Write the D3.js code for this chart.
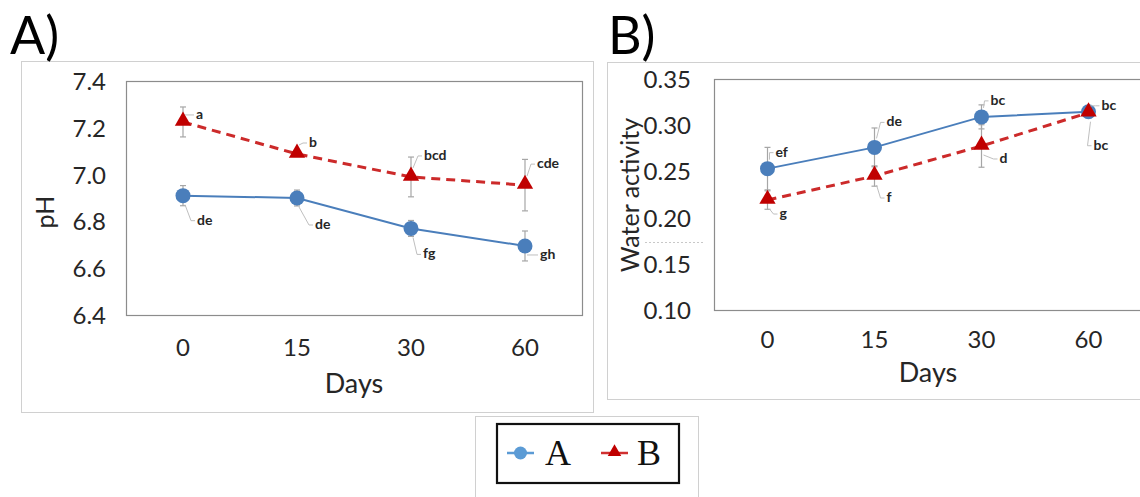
<!DOCTYPE html>
<html>
<head>
<meta charset="utf-8">
<script src="https://cdn.jsdelivr.net/npm/d3@7"></script>
<style>
  html, body { margin: 0; padding: 0; background: #fff; }
  svg { display: block; font-family: Lato, "Open Sans", sans-serif; }
</style>
</head>
<body>
<svg id="chart" width="1140" height="497"></svg>
<script>
// ---------------- data ----------------
const days = ["0", "15", "30", "60"];

const phTicks = [6.4, 6.6, 6.8, 7.0, 7.2, 7.4];
const phA = [6.91, 6.90, 6.77, 6.695];
const phAErr = [0.043, 0.034, 0.034, 0.064];
const phB = [7.225, 7.088, 6.99, 6.955];
const phBErr = [0.064, 0.01, 0.085, 0.11];
const phALetters = ["de", "de", "fg", "gh"];
const phBLetters = ["a", "b", "bcd", "cde"];

const awTicks = [0.10, 0.15, 0.20, 0.25, 0.30, 0.35];
const awA = [0.253, 0.276, 0.309, 0.3145];
const awAErr = [0.023, 0.021, 0.013, 0.003];
const awB = [0.219, 0.245, 0.2775, 0.3135];
const awBErr = [0.010, 0.011, 0.023, 0.003];
const awALetters = ["ef", "de", "bc", "bc"];
const awBLetters = ["g", "f", "d", "bc"];

const seriesNames = ["A", "B"];

// ---------------- style ----------------
const BLUE = "#4a7ebb";
const BLUE_LEG = "#5b9bd5";
const RED = "#c00000";
const RED_LINE = "#cc2a2a";
const ERR = "#a6a6a6";

const svg = d3.select("#chart");
svg.append("rect").attr("width", 1140).attr("height", 497).attr("fill", "#fff");

function panel(cfg) {
  const g = svg.append("g");
  g.append("rect")
    .attr("x", cfg.frame[0] + 0.5).attr("y", cfg.frame[1] + 0.5)
    .attr("width", cfg.frame[2]).attr("height", cfg.frame[3])
    .attr("fill", "none").attr("stroke", "#d0d0d0").attr("stroke-width", 1);

  g.append("text").attr("x", cfg.title[0]).attr("y", cfg.title[1])
    .attr("font-size", 52).attr("fill", "#000").text(cfg.titleText);

  const x = d3.scaleBand().domain(days).range([cfg.plot.left, cfg.plot.right]);
  const y = d3.scaleLinear().domain(cfg.yDomain).range([cfg.plot.bottom, cfg.plot.top]);
  const cx = d => x(d) + x.bandwidth() / 2;

  g.append("rect")
    .attr("x", cfg.plot.left + 0.5).attr("y", cfg.plot.top + 0.5)
    .attr("width", cfg.plot.right - cfg.plot.left).attr("height", cfg.plot.bottom - cfg.plot.top)
    .attr("fill", "none").attr("stroke", "#8c8c8c").attr("stroke-width", 1.2);

  const ya = g.append("g").attr("transform", `translate(${cfg.plot.left - cfg.yLabelGap},0)`)
    .call(d3.axisLeft(y).tickValues(cfg.ticks).tickSize(0).tickPadding(0).tickFormat(cfg.fmt));
  ya.select(".domain").remove();
  ya.selectAll("text").attr("font-size", 24).attr("fill", "#262626")
    .attr("font-family", "Lato, sans-serif").attr("dy", "0.35em");

  const xa = g.append("g").attr("transform", `translate(0,${cfg.xTickY})`)
    .call(d3.axisBottom(x).tickSize(0).tickPadding(0));
  xa.select(".domain").remove();
  xa.selectAll("text").attr("font-size", 24).attr("fill", "#262626")
    .attr("font-family", "Lato, sans-serif").attr("dy", "0.35em");

  g.append("text").attr("x", cfg.xTitle[0]).attr("y", cfg.xTitle[1])
    .attr("text-anchor", "middle").attr("dy", "0.35em")
    .attr("font-size", 27).attr("fill", "#262626").text("Days");
  g.append("text").attr("transform", `translate(${cfg.yTitle[0]},${cfg.yTitle[1]}) rotate(-90)`)
    .attr("text-anchor", "middle").attr("dy", "0.35em")
    .attr("font-size", 25).attr("fill", "#262626").text(cfg.yTitleText);

  const series = [
    { vals: cfg.a, err: cfg.aErr, letters: cfg.aLetters, off: cfg.aOff },
    { vals: cfg.b, err: cfg.bErr, letters: cfg.bLetters, off: cfg.bOff }
  ];

  series.forEach(s => {
    const eg = g.append("g").attr("stroke", ERR).attr("stroke-width", 1.2);
    days.forEach((d, i) => {
      const px = cx(d), y1 = y(s.vals[i] + s.err[i]), y2 = y(s.vals[i] - s.err[i]);
      eg.append("line").attr("x1", px).attr("x2", px).attr("y1", y1).attr("y2", y2);
      eg.append("line").attr("x1", px - 3).attr("x2", px + 3).attr("y1", y1).attr("y2", y1);
      eg.append("line").attr("x1", px - 3).attr("x2", px + 3).attr("y1", y2).attr("y2", y2);
    });
  });

  const line = d3.line().x((v, i) => cx(days[i])).y(v => y(v));
  [0, 1].forEach(k => {
    const s = series[k];
    g.append("path").datum(s.vals).attr("d", line).attr("fill", "none")
      .attr("stroke", k === 0 ? BLUE : RED_LINE)
      .attr("stroke-width", k === 0 ? 2 : 3)
      .attr("stroke-dasharray", k === 0 ? null : "9,6");
  });
  [0, 1].forEach(k => {
    const s = series[k];
    days.forEach((d, i) => {
      if (k === 0) {
        g.append("circle").attr("cx", cx(d)).attr("cy", y(s.vals[i])).attr("r", 7.5).attr("fill", BLUE);
      } else {
        g.append("path").attr("d", d3.symbol(d3.symbolTriangle, 115)())
          .attr("transform", `translate(${cx(d)},${y(s.vals[i]) - 1})`).attr("fill", RED);
      }
    });
  });

  series.forEach(s => {
    days.forEach((d, i) => {
      const px = cx(d), py = y(s.vals[i]);
      const o = s.off[i];
      const lx = px + o[0], ly = py + o[1];
      const midY = ly - 4;
      const dirY = Math.sign(midY - py) || 0;
      const startY = py + dirY * Math.min(9, Math.abs(midY - py));
      g.append("path")
        .attr("d", `M${px + 2},${startY} L${lx - 6},${midY} L${lx - 2},${midY}`)
        .attr("fill", "none").attr("stroke", "#bfbfbf").attr("stroke-width", 1);
      g.append("text").attr("x", lx).attr("y", ly)
        .attr("font-size", 14).attr("font-weight", "bold").attr("fill", "#262626")
        .text(s.letters[i]);
    });
  });
}

panel({
  frame: [21, 61, 572, 351],
  title: [10, 54], titleText: "A)",
  plot: { left: 126, right: 582, top: 81, bottom: 315 },
  yDomain: [6.4, 7.4], ticks: phTicks, fmt: d3.format(".1f"), yLabelGap: 20,
  xTickY: 348, xTitle: [354, 384], yTitle: [45, 212], yTitleText: "pH",
  a: phA, aErr: phAErr, aLetters: phALetters,
  aOff: [[14, 29], [18, 31], [12, 30], [15, 13]],
  b: phB, bErr: phBErr, bLetters: phBLetters,
  bOff: [[13, -3], [12, -7], [13, -17], [12, -17]]
});

panel({
  frame: [607, 62, 545, 337],
  title: [608, 54], titleText: "B)",
  plot: { left: 714, right: 1142, top: 79, bottom: 310 },
  yDomain: [0.10, 0.35], ticks: awTicks, fmt: d3.format(".2f"), yLabelGap: 23,
  xTickY: 340, xTitle: [928, 373], yTitle: [630, 195], yTitleText: "Water activity",
  a: awA, aErr: awAErr, aLetters: awALetters,
  aOff: [[8, -12], [12, -21], [9, -12], [13, -2]],
  b: awB, bErr: awBErr, bLetters: awBLetters,
  bOff: [[12, 18], [12, 26], [18, 17], [5, 37]]
});

svg.append("line").attr("x1", 645).attr("x2", 705).attr("y1", 242.5).attr("y2", 242.5)
  .attr("stroke", "#c8c8c8").attr("stroke-width", 1).attr("stroke-dasharray", "2,2");

// ---------------- legend ----------------
const lg = svg.append("g");
lg.append("rect").attr("x", 475.5).attr("y", 416.5).attr("width", 223).attr("height", 90)
  .attr("fill", "#fff").attr("stroke", "#d0d0d0");
lg.append("rect").attr("x", 497).attr("y", 424).attr("width", 182).attr("height", 59)
  .attr("fill", "none").attr("stroke", "#111").attr("stroke-width", 2.2);
const legItems = [
  { name: seriesNames[0], x0: 507, color: BLUE_LEG, type: "circle", tx: 545 },
  { name: seriesNames[1], x0: 601, color: RED, type: "triangle", tx: 637 }
];
legItems.forEach(it => {
  const ly = 453;
  lg.append("line").attr("x1", it.x0).attr("x2", it.x0 + 27).attr("y1", ly).attr("y2", ly)
    .attr("stroke", it.type === "circle" ? BLUE_LEG : "#d03030").attr("stroke-width", 2.5);
  if (it.type === "circle") {
    lg.append("circle").attr("cx", it.x0 + 13.5).attr("cy", ly).attr("r", 6.5).attr("fill", it.color);
  } else {
    lg.append("path").attr("d", d3.symbol(d3.symbolTriangle, 80)())
      .attr("transform", `translate(${it.x0 + 13.5},${ly - 1})`).attr("fill", it.color);
  }
  lg.append("text").attr("x", it.tx).attr("y", ly + 12)
    .style("font-family", "'Liberation Serif', 'DejaVu Serif', serif")
    .attr("font-size", 36).attr("fill", "#111").text(it.name);
});
</script>
</body>
</html>
